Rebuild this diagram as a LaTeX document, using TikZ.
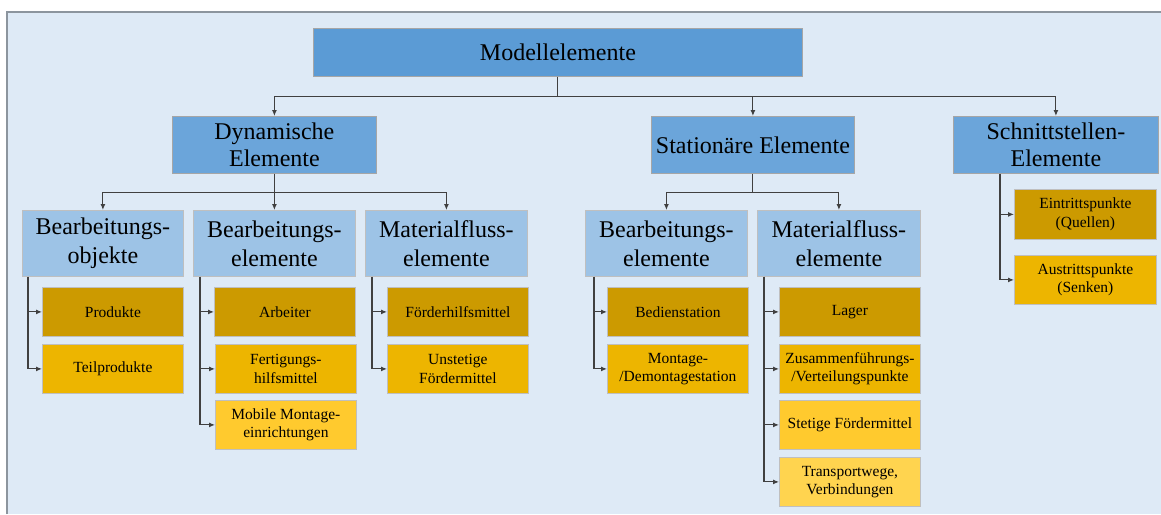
\documentclass[tikz,border=0pt]{standalone}
\usepackage{fontspec}
\setmainfont{Liberation Serif}
\usepackage{tikz}
\usetikzlibrary{arrows.meta,positioning,calc}
\definecolor{bgblue}{HTML}{DEEAF6}
\definecolor{framegray}{HTML}{8C959E}
\definecolor{rootblue}{HTML}{5B9BD5}
\definecolor{catblue}{HTML}{6BA5DA}
\definecolor{subblue}{HTML}{9DC3E6}
\definecolor{leafa}{HTML}{CC9A00}
\definecolor{leafb}{HTML}{EDB500}
\definecolor{leafc}{HTML}{FFCA2E}
\definecolor{leafd}{HTML}{FFD44F}
\definecolor{linegray}{HTML}{404040}

\begin{document}
\begin{tikzpicture}[
  x=1pt, y=-1pt,
  box/.style={anchor=north west, inner sep=0pt, align=center, line width=0.8pt},
  rootbox/.style={box, draw=black!35, fill=rootblue, minimum width=489pt, minimum height=48pt, font=\fontsize{24}{27}\selectfont},
  catbox/.style={box, draw=black!35, fill=catblue, minimum width=204pt, minimum height=57pt, font=\fontsize{24}{27}\selectfont},
  subbox/.style={box, draw=black!25, fill=subblue, minimum width=162pt, minimum height=66pt, font=\fontsize{24}{29}\selectfont},
  leaf/.style={box, draw=black!25, minimum width=141pt, minimum height=49pt, font=\fontsize{15.5}{18.5}\selectfont},
  conn/.style={draw=linegray, line width=1.1pt, -{Latex[length=6pt,width=5pt]}}
]
  \useasboundingbox (0,0) rectangle (1161,514);
  % background
  \fill[bgblue] (7,12) rectangle (1161,514);
  \draw[framegray, line width=1.2pt] (7,514) -- (7,12) -- (1161,12);

  % top levels
  \node[rootbox] (root) at (313,28) {Modellelemente};
  \node[catbox] (dyn) at (172,116) {Dynamische\\Elemente};
  \node[catbox, minimum width=203pt] (stat) at (651,116) {Station\"are Elemente};
  \node[catbox, minimum width=205pt] (schn) at (953,116) {Schnittstellen-\\Elemente};

  \node[subbox, minimum width=161pt] (bo) at (22,210) {Bearbeitungs-\\objekte};
  \node[subbox] (bea) at (193,210) {Bearbeitungs-\\elemente};
  \node[subbox] (mfa) at (365,210) {Materialfluss-\\elemente};
  \node[subbox] (beb) at (585,210) {Bearbeitungs-\\elemente};
  \node[subbox, minimum width=163pt] (mfb) at (757,210) {Materialfluss-\\elemente};

  % leaves
  \node[leaf, fill=leafa] (prod) at (42,287) {Produkte};
  \node[leaf, fill=leafb] (teil) at (42,344) {Teilprodukte};

  \node[leaf, fill=leafa] (arb) at (214,287) {Arbeiter};
  \node[leaf, fill=leafb] (fert) at (215,344) {Fertigungs-\\hilfsmittel};
  \node[leaf, fill=leafc] (mob) at (215,400) {Mobile Montage-\\einrichtungen};

  \node[leaf, fill=leafa] (fhm) at (387,287) {F\"orderhilfsmittel};
  \node[leaf, fill=leafb] (unst) at (387,344) {Unstetige\\F\"ordermittel};

  \node[leaf, fill=leafa] (bed) at (607,287) {Bedienstation};
  \node[leaf, fill=leafb] (mont) at (607,344) {Montage-\\/Demontagestation};

  \node[leaf, fill=leafa] (lag) at (779,287) {Lager};
  \node[leaf, fill=leafb] (zus) at (779,344) {Zusammenf\"uhrungs-\\/Verteilungspunkte};
  \node[leaf, fill=leafc] (stet) at (779,400) {Stetige F\"ordermittel};
  \node[leaf, fill=leafd] (trans) at (779,457) {Transportwege,\\Verbindungen};

  \node[leaf, fill=leafa, minimum width=142pt, minimum height=50pt] (ein) at (1014,189) {Eintrittspunkte\\(Quellen)};
  \node[leaf, fill=leafb, minimum width=142pt] (aus) at (1014,255) {Austrittspunkte\\(Senken)};

  % tree connectors
  \foreach \c in {dyn,stat,schn}
    \draw[conn] (root.south) -- ++(0,20) -| (\c.north);
  \foreach \c in {bo,bea,mfa}
    \draw[conn] (dyn.south) -- ++(0,19) -| (\c.north);
  \foreach \c in {beb,mfb}
    \draw[conn] (stat.south) -- ++(0,19) -| (\c.north);

  % side trunks
  \coordinate (bo-t) at ([xshift=6pt]bo.south west);
  \coordinate (bea-t) at ([xshift=7pt]bea.south west);
  \coordinate (mfa-t) at ([xshift=7pt]mfa.south west);
  \coordinate (beb-t) at ([xshift=9pt]beb.south west);
  \coordinate (mfb-t) at ([xshift=7pt]mfb.south west);
  \coordinate (schn-t) at ([xshift=47pt]schn.south west);
  \foreach \t/\l in {bo/prod, bo/teil, bea/arb, bea/fert, bea/mob, mfa/fhm, mfa/unst,
                     beb/bed, beb/mont, mfb/lag, mfb/zus, mfb/stet, mfb/trans,
                     schn/ein, schn/aus}
    \draw[conn] (\t-t) |- (\l.west);
\end{tikzpicture}
\end{document}
